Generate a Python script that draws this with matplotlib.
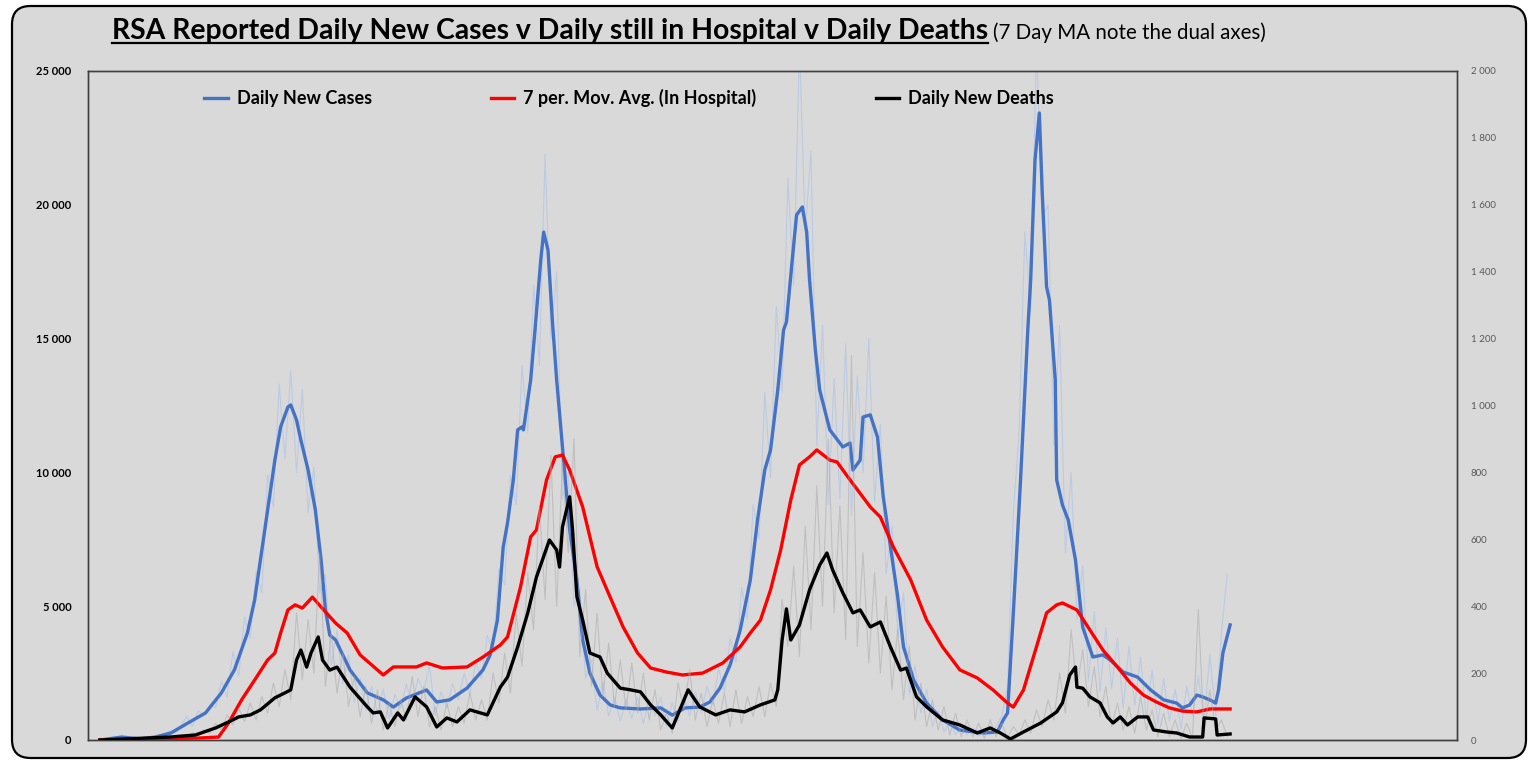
import numpy as np
import matplotlib.pyplot as plt
from matplotlib.patches import FancyBboxPatch
from matplotlib.lines import Line2D

# day 0 = first reported case (early March 2020)
case_days = [0, 15, 28, 38, 49, 61, 73, 84, 93, 102, 107, 111, 116, 121, 125, 130, 132, 136, 139,
             144, 149, 153, 156, 159, 163, 173, 185, 196, 203, 212, 226, 233, 242, 254, 265, 270,
             275, 279, 282, 286, 289, 292, 293, 296, 298, 301, 305, 307, 310, 313, 316, 320, 322,
             325, 330, 334, 339, 346, 353, 360, 374, 388, 396, 405, 415, 422, 429, 436, 443, 450,
             455, 460, 464, 469, 473, 475, 479, 482, 486, 489, 491, 495, 498, 505, 514, 519, 521,
             526, 528, 533, 538, 542, 547, 552, 556, 563, 572, 583, 595, 611, 621, 625, 628, 632,
             637, 642, 644, 647, 650, 652, 655, 657, 661, 662, 666, 670, 675, 680, 687, 694, 699,
             708, 718, 727, 736, 745, 749, 754, 759, 763, 768, 772, 774, 777, 782]
case_ma = [0, 110, 40, 110, 260, 640, 1010, 1760, 2620, 4000, 5230, 6730, 8600, 10460, 11700, 12440,
           12520, 11960, 11210, 10090, 8600, 6730, 4860, 3920, 3740, 2620, 1760, 1500, 1230, 1570,
           1870, 1420, 1500, 1940, 2620, 3180, 4480, 7210, 8110, 9720, 11590, 11700, 11590, 12710,
           13450, 15320, 17940, 18980, 18310, 15700, 13450, 10950, 9720, 7850, 5980, 3740, 2500,
           1680, 1310, 1200, 1160, 1200, 930, 1200, 1230, 1420, 1940, 2800, 4110, 5980, 8220,
           10090, 10840, 13080, 15320, 15620, 17940, 19620, 19920, 18980, 17190, 14570, 13080,
           11590, 10950, 11100, 10090, 10460, 12070, 12150, 11320, 9080, 7210, 5340, 3480, 2240,
           1380, 750, 370, 260, 300, 750, 1010, 4750, 9720, 15320, 17190, 21680, 23430, 20440,
           16930, 16440, 13450, 9720, 8780, 8220, 6730, 4220, 3100, 3180, 2990, 2540, 2350, 1870,
           1500, 1380, 1200, 1310, 1680, 1610, 1500, 1380, 1870, 3250, 4300]

hosp_days = [0, 35, 69, 82, 89, 98, 107, 116, 121, 125, 130, 135, 140, 147, 153, 163, 171, 180,
             196, 203, 219, 226, 237, 254, 265, 277, 282, 291, 298, 302, 309, 315, 320, 325, 334,
             344, 353, 362, 372, 381, 392, 403, 417, 431, 443, 450, 457, 464, 471, 478, 484, 491,
             496, 505, 510, 519, 533, 540, 549, 561, 572, 583, 595, 607, 618, 628, 632, 639, 648,
             655, 662, 666, 676, 685, 694, 704, 713, 722, 731, 740, 749, 759, 768, 782]
hosp_ma = [0, 40, 75, 110, 640, 1500, 2240, 2990, 3250, 4000, 4860, 5050, 4930, 5340, 4970, 4370,
           4000, 3180, 2430, 2730, 2730, 2880, 2690, 2730, 3100, 3550, 3850, 5720, 7590, 7850,
           9720, 10580, 10650, 10090, 8710, 6470, 5340, 4220, 3250, 2690, 2540, 2430, 2500, 2880,
           3480, 4000, 4480, 5610, 7100, 8970, 10280, 10580, 10840, 10460, 10390, 9720, 8710,
           8330, 7210, 5980, 4480, 3480, 2620, 2320, 1870, 1380, 1230, 1870, 3480, 4750, 5050,
           5120, 4860, 4110, 3360, 2730, 2130, 1680, 1420, 1200, 1080, 1050, 1160, 1160]

death_days = [0, 49, 66, 80, 89, 96, 104, 111, 121, 128, 132, 136, 139, 143, 146, 151, 154, 159,
              164, 173, 185, 189, 194, 199, 206, 210, 218, 226, 233, 240, 247, 256, 268, 277, 282,
              289, 296, 302, 311, 316, 318, 320, 325, 327, 330, 334, 339, 346, 351, 360, 367, 374,
              381, 388, 396, 407, 415, 426, 436, 446, 457, 467, 469, 472, 475, 478, 484, 491, 498,
              503, 507, 514, 521, 526, 533, 540, 547, 554, 558, 565, 572, 583, 595, 607, 616, 623,
              630, 639, 651, 662, 666, 671, 675, 676, 680, 685, 692, 697, 701, 706, 711, 718, 725,
              729, 738, 745, 754, 763, 764, 772, 773, 782]
death_ma = [0, 9, 15, 36, 54, 69, 75, 90, 126, 141, 150, 239, 269, 218, 260, 308, 239, 209, 218,
            158, 99, 81, 84, 36, 81, 60, 129, 99, 39, 66, 54, 90, 75, 158, 188, 278, 380, 487, 598,
            568, 517, 637, 727, 628, 428, 359, 260, 248, 200, 155, 150, 144, 105, 75, 36, 150, 99,
            75, 90, 84, 105, 120, 150, 299, 392, 299, 344, 449, 523, 559, 508, 440, 380, 389, 338,
            353, 278, 209, 215, 129, 99, 60, 45, 21, 36, 21, 3, 24, 51, 84, 111, 194, 218, 158,
            155, 129, 111, 69, 51, 69, 45, 69, 69, 30, 24, 21, 9, 9, 66, 63, 15, 18]

# raw daily figures, every 4th day
raw_days = np.arange(0, 784, 4)
raw_cases = [0, 0, 10, 60, 150, 120, 40, 20, 30, 60, 80, 150, 350, 250, 500, 900, 500, 1100, 900,
             1300, 1200, 2200, 1600, 3300, 2400, 4600, 3800, 6300, 5500, 9900, 8700, 13300, 10500,
             13800, 10000, 13100, 8500, 10200, 5500, 6200, 2800, 4100, 2100, 3200, 1400, 2300, 1100,
             2000, 1000, 1900, 800, 1700, 1200, 2100, 1300, 2300, 1800, 2800, 900, 1800, 1200, 2100,
             1500, 2500, 1700, 2900, 2300, 3900, 3300, 6400, 5800, 9900, 8800, 14000, 11500, 17000,
             14000, 21900, 15000, 17500, 9000, 10000, 5000, 5600, 2300, 3000, 1100, 2200, 900, 1600,
             700, 1500, 800, 1600, 600, 1500, 900, 1600, 500, 1400, 700, 1700, 900, 1800, 1000, 2000,
             1300, 2700, 1800, 3800, 2900, 5700, 4500, 8800, 7500, 13000, 9800, 16200, 13000, 21000,
             17000, 26000, 19000, 22000, 11000, 15500, 8800, 13500, 9000, 14800, 8400, 13600, 10000,
             15000, 8900, 11800, 6200, 8000, 3900, 5500, 1700, 2800, 1000, 1900, 500, 1100, 300, 700,
             200, 500, 200, 450, 150, 400, 200, 500, 900, 2000, 8500, 11500, 19000, 16000, 26000,
             19500, 20000, 11000, 15500, 7000, 10000, 4500, 6500, 2200, 4800, 1800, 4200, 1900, 3800,
             1200, 3500, 1300, 3100, 800, 2600, 600, 2300, 700, 1900, 400, 2000, 900, 2400, 700,
             3200, 900, 4000, 6200]
raw_deaths = [0, 0, 0, 0, 0, 2, 3, 2, 5, 4, 8, 5, 12, 8, 15, 10, 22, 12, 30, 20, 50, 30, 75, 45,
              95, 55, 110, 60, 130, 80, 170, 100, 210, 120, 380, 180, 360, 200, 560, 160, 320, 140,
              260, 100, 190, 70, 160, 50, 150, 30, 110, 40, 120, 60, 190, 70, 160, 40, 100, 30, 110,
              40, 100, 50, 140, 60, 120, 60, 200, 110, 260, 140, 380, 220, 500, 330, 700, 420, 850,
              400, 830, 560, 900, 250, 450, 160, 380, 130, 290, 100, 240, 90, 230, 80, 200, 60, 150,
              30, 80, 20, 170, 90, 210, 60, 140, 40, 120, 50, 140, 40, 150, 50, 130, 70, 160, 70,
              170, 100, 420, 280, 520, 250, 640, 330, 760, 400, 900, 380, 700, 300, 1150, 280, 560,
              230, 500, 200, 430, 150, 330, 120, 280, 60, 170, 40, 120, 30, 100, 15, 80, 10, 60, 10,
              50, 5, 60, 10, 50, 5, 40, 15, 60, 20, 90, 40, 120, 60, 200, 80, 330, 150, 270, 100,
              220, 70, 160, 40, 110, 30, 100, 20, 130, 30, 90, 10, 80, 10, 60, 5, 50, 5, 390, 20,
              150, 30, 60, 10]

W, H = 1534, 763
BG = '#D9D9D9'
plt.rcParams['font.family'] = ['Lato', 'DejaVu Sans']

fig = plt.figure(figsize=(W / 100, H / 100), dpi=100)
fig.patch.set_facecolor('white')
frame = FancyBboxPatch((12 / W, 5 / H), 1514 / W, 752 / H,
                       boxstyle='round,pad=0,rounding_size=0.012', mutation_aspect=W / H,
                       transform=fig.transFigure, facecolor=BG, edgecolor='black', lw=1.6,
                       zorder=-10)
fig.add_artist(frame)

ax = fig.add_axes([88 / W, 23 / H, 1369 / W, 669 / H])
ax.set_facecolor(BG)
ax2 = ax.twinx()

ax.plot(raw_days, raw_cases, color='#A9C1EA', lw=0.8, alpha=0.6, zorder=1)
ax2.plot(raw_days, raw_deaths, color='#A6A6A6', lw=0.8, alpha=0.5, zorder=1)
l1, = ax.plot(case_days, case_ma, color='#4472C4', lw=2.4, zorder=3)
l2, = ax.plot(hosp_days, hosp_ma, color='#FF0000', lw=2.4, zorder=4)
l3, = ax2.plot(death_days, death_ma, color='black', lw=2.4, zorder=5)

ax.set_xlim(-8.3, 939)
ax.set_ylim(0, 25000)
ax2.set_ylim(0, 2000)
ax.set_xticks([])

def spaced(v):
    return f'{v:,.0f}'.replace(',', ' ')

lt = list(range(0, 25001, 5000))
ax.set_yticks(lt)
ax.set_yticklabels([spaced(v) for v in lt], fontsize=8, fontweight='bold')
ax.tick_params(axis='y', length=0, pad=12)
rt = list(range(0, 2001, 200))
ax2.set_yticks(rt)
ax2.set_yticklabels([spaced(v) for v in rt], fontsize=7, color='#595959')
ax2.tick_params(axis='y', length=0, pad=10)
for a in (ax, ax2):
    for s in a.spines.values():
        s.set_color('#404040')
        s.set_linewidth(1.0)

ax.legend([l1, l2, l3], ['Daily New Cases', '7 per. Mov. Avg. (In Hospital)', 'Daily New Deaths'],
          loc='center left', bbox_to_anchor=(195 / W, 1 - 98 / H), bbox_transform=fig.transFigure,
          ncol=3, frameon=False, borderpad=0, handlelength=1.3, handletextpad=0.5,
          columnspacing=6.6, prop={'weight': 'bold', 'size': 13})

# title with underline
t1 = fig.text(112 / W, 1 - 39 / H, 'RSA Reported Daily New Cases v Daily still in Hospital v Daily Deaths',
              fontsize=20.4, fontweight='bold', ha='left', va='baseline')
fig.canvas.draw()
r = fig.canvas.get_renderer()
bb = t1.get_window_extent(r)
fig.text((bb.x1 + 5) / W, 1 - 39 / H, '(7 Day MA note the dual axes)', fontsize=14.8,
         ha='left', va='baseline')
uy = 1 - 43 / H
fig.add_artist(Line2D([bb.x0 / W, bb.x1 / W], [uy, uy], transform=fig.transFigure,
                      color='black', lw=1.6))

fig.savefig('out.png', dpi=100, facecolor='white')
